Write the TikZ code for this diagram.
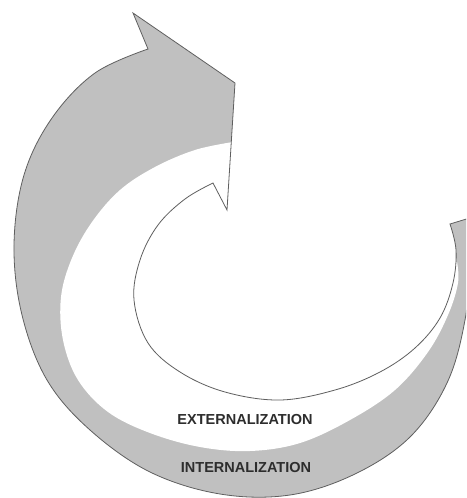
\documentclass[tikz,border=0pt]{standalone}
\usepackage{fontspec}
\setmainfont{Liberation Sans}
\begin{document}
\begin{tikzpicture}[x=1pt,y=-1pt,
  spiral/.style={draw=edgegray,line width=0.8pt,line join=miter},
  band/.style={fill=white},
  lbl/.style={font=\bfseries\fontsize{14.5}{16}\selectfont,text=labelgray,inner sep=0pt}]
\definecolor{bandgray}{RGB}{192,192,192}
\definecolor{edgegray}{RGB}{95,95,95}
\definecolor{labelgray}{RGB}{45,45,45}
\useasboundingbox (0,0) rectangle (466,498);
\clip (0,0) rectangle (466,498);
\def\spiralpath{(473,217) -- (450,224)
  -- plot[smooth,tension=0.6] coordinates {(450,224) (456,250) (453,283) (440,318) (415,348) (380,372) (335,390) (280,400) (225,392) (180,372) (148,343) (134,300) (140,260) (158,225) (185,199) (213,183)}
  -- (227,210) -- (235,83) -- (133,13) -- (148,49)
  -- plot[smooth,tension=0.6] coordinates {(148,49) (95,73) (52,118) (24,175) (14,245) (22,315) (47,380) (90,430) (150,472) (220,494) (290,495) (355,474) (410,437) (447,383) (465,320) (472,250) (473,217)}
  -- cycle}
% gray spiral arrow (fill)
\fill[bandgray] \spiralpath;
% white inner band (externalization)
\fill[band] plot[smooth,tension=0.6] coordinates {(233,142) (195,150) (155,167) (120,190) (92,222) (72,258) (61,297) (63,340) (78,380) (108,412) (150,433) (200,447) (250,451) (300,443) (350,420) (395,390) (428,352) (448,315) (458,283) (457,262)}
  -- (445,262) -- (229,214) -- cycle;
% outline
\draw[spiral] \spiralpath;
\node[lbl] (ext) at (245,420) {EXTERNALIZATION};
\node[lbl] (int) at (246,468) {INTERNALIZATION};
\end{tikzpicture}
\end{document}
